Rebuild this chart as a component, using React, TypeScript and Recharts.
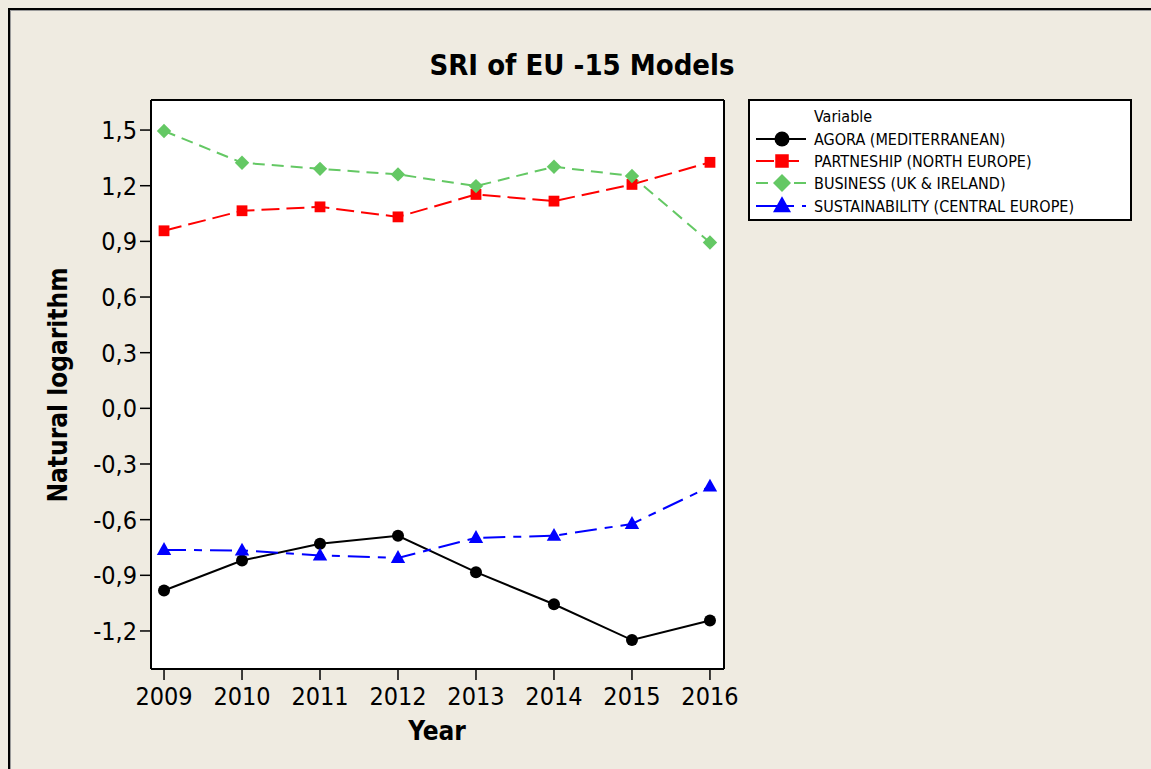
import React from 'react';
import { LineChart, Line, XAxis, YAxis, CartesianGrid, Legend } from 'recharts';

const YEARS = [2009, 2010, 2011, 2012, 2013, 2014, 2015, 2016];
const AGORA = [-0.982, -0.82, -0.73, -0.687, -0.883, -1.056, -1.249, -1.144];
const PARTNESHIP = [0.957, 1.065, 1.086, 1.032, 1.153, 1.117, 1.207, 1.326];
const BUSINESS = [1.495, 1.324, 1.291, 1.261, 1.198, 1.302, 1.252, 0.894];
const SUSTAINABILITY = [-0.763, -0.766, -0.793, -0.806, -0.698, -0.687, -0.623, -0.421];
const Y_TICKS = [-1.2, -0.9, -0.6, -0.3, 0, 0.3, 0.6, 0.9, 1.2, 1.5];

const FONT = '"DejaVu Sans Condensed", "DejaVu Sans", sans-serif';
const BG = '#EFEBE1';
const X_DOMAIN = [2008.833, 2016.18];
const Y_DOMAIN = [-1.405, 1.662];

const data = YEARS.map((year, i) => ({
  year,
  agora: AGORA[i],
  partneship: PARTNESHIP[i],
  business: BUSINESS[i],
  sustainability: SUSTAINABILITY[i],
}));

type Shape = 'circle' | 'square' | 'diamond' | 'triangle';

const SERIES: { key: string; name: string; color: string; dash?: string; shape: Shape }[] = [
  { key: 'agora', name: 'AGORA (MEDITERRANEAN)', color: '#000000', shape: 'circle' },
  { key: 'partneship', name: 'PARTNESHIP (NORTH EUROPE)', color: '#FF0000', dash: '18 7', shape: 'square' },
  { key: 'business', name: 'BUSINESS (UK & IRELAND)', color: '#64C864', dash: '12 7', shape: 'diamond' },
  { key: 'sustainability', name: 'SUSTAINABILITY (CENTRAL EUROPE)', color: '#0000FF', dash: '22 8 8 8', shape: 'triangle' },
];

function marker(shape: Shape, cx: number, cy: number, color: string, s: number, key?: string) {
  if (shape === 'circle') return <circle key={key} cx={cx} cy={cy} r={s * 0.5} fill={color} />;
  if (shape === 'square')
    return <rect key={key} x={cx - s * 0.45} y={cy - s * 0.45} width={s * 0.9} height={s * 0.9} fill={color} />;
  if (shape === 'diamond') {
    const h = s * 0.6;
    return <polygon key={key} points={`${cx},${cy - h} ${cx + h},${cy} ${cx},${cy + h} ${cx - h},${cy}`} fill={color} />;
  }
  const w = s * 0.6;
  return (
    <polygon
      key={key}
      points={`${cx},${cy - s * 0.65} ${cx + w},${cy + s * 0.42} ${cx - w},${cy + s * 0.42}`}
      fill={color}
    />
  );
}

const makeDot = (shape: Shape, color: string) => (props: any) =>
  marker(shape, props.cx, props.cy, color, 12, `${shape}-${props.index}`);

const fmt = (v: number) => v.toFixed(1).replace('.', ',');

function LegendBox() {
  const rows = [140, 162, 184, 207];
  return (
    <svg width={384} height={122} style={{ display: 'block' }}>
      <rect x={1} y={1} width={382} height={120} fill="#fff" stroke="#000" strokeWidth={2} />
      <text x={66} y={17} dominantBaseline="central" fontFamily={FONT} fontSize={16} fill="#000">
        Variable
      </text>
      {SERIES.map((s, i) => {
        const y = rows[i] - 100;
        return (
          <g key={s.key}>
            <line x1={8} x2={58} y1={y} y2={y} stroke={s.color} strokeWidth={2} strokeDasharray={s.dash} />
            {marker(s.shape, 34, y, s.color, 15)}
            <text x={66} y={y} dominantBaseline="central" fontFamily={FONT} fontSize={16} fill="#000">
              {s.name}
            </text>
          </g>
        );
      })}
    </svg>
  );
}

export default function App() {
  const tick = { fontSize: 25, fill: '#000', fontFamily: FONT };
  const frame = { stroke: '#000', strokeWidth: 2 };
  return (
    <div style={{ position: 'relative', width: 1151, height: 769, background: BG, overflow: 'hidden' }}>
      <style>{`body{margin:0;overflow:hidden}`}</style>
      <div
        style={{
          position: 'absolute',
          left: 8,
          top: 8,
          right: -10,
          bottom: -10,
          borderLeft: '2px solid #000',
          borderTop: '2px solid #000',
          boxShadow: 'inset 1px 1px 0 #9a9a9a',
        }}
      />
      <div style={{ position: 'absolute', left: 0, top: 0 }}>
        <LineChart width={1151} height={769} data={data} margin={{ top: 99, left: 91, right: 426, bottom: 60 }}>
          <CartesianGrid fill="#fff" horizontal={false} vertical={false} />
          <XAxis
            dataKey="year"
            type="number"
            domain={X_DOMAIN}
            ticks={YEARS}
            height={40}
            allowDataOverflow
            tick={tick}
            tickSize={11}
            tickMargin={7}
            stroke="#000"
            axisLine={frame}
            tickLine={{ stroke: '#000', strokeWidth: 1.5 }}
          />
          <XAxis
            xAxisId="top"
            orientation="top"
            dataKey="year"
            type="number"
            domain={X_DOMAIN}
            allowDataOverflow
            height={1}
            tick={false}
            tickLine={false}
            stroke="#000"
            axisLine={frame}
          />
          <YAxis
            type="number"
            domain={Y_DOMAIN}
            ticks={Y_TICKS}
            tickFormatter={fmt}
            allowDataOverflow
            width={60}
            tick={tick}
            tickSize={11}
            tickMargin={3}
            stroke="#000"
            axisLine={frame}
            tickLine={{ stroke: '#000', strokeWidth: 1.5 }}
          />
          <YAxis
            yAxisId="right"
            orientation="right"
            type="number"
            domain={Y_DOMAIN}
            allowDataOverflow
            width={1}
            tick={false}
            tickLine={false}
            stroke="#000"
            axisLine={frame}
          />
          {SERIES.map((s) => (
            <Line
              key={s.key}
              dataKey={s.key}
              name={s.name}
              stroke={s.color}
              strokeWidth={2}
              strokeDasharray={s.dash}
              dot={makeDot(s.shape, s.color)}
              activeDot={false}
              isAnimationActive={false}
            />
          ))}
          <Legend
            layout="vertical"
            align="center"
            verticalAlign="middle"
            content={() => <LegendBox />}
            wrapperStyle={{ left: 748, top: 99, width: 384, height: 122 }}
          />
        </LineChart>
      </div>
      <div
        style={{
          position: 'absolute',
          left: 0,
          width: 1164,
          top: 46,
          textAlign: 'center',
          fontFamily: FONT,
          fontWeight: 'bold',
          fontSize: 29,
          lineHeight: '38px',
        }}
      >
        SRI of EU -15 Models
      </div>
      <div
        style={{
          position: 'absolute',
          left: 337,
          width: 200,
          top: 715,
          textAlign: 'center',
          fontFamily: FONT,
          fontWeight: 'bold',
          fontSize: 26,
          lineHeight: '32px',
        }}
      >
        Year
      </div>
      <div
        style={{
          position: 'absolute',
          left: 58 - 150,
          top: 385 - 16,
          width: 300,
          textAlign: 'center',
          transform: 'rotate(-90deg)',
          fontFamily: FONT,
          fontWeight: 'bold',
          fontSize: 26,
          lineHeight: '32px',
        }}
      >
        Natural logarithm
      </div>
    </div>
  );
}
